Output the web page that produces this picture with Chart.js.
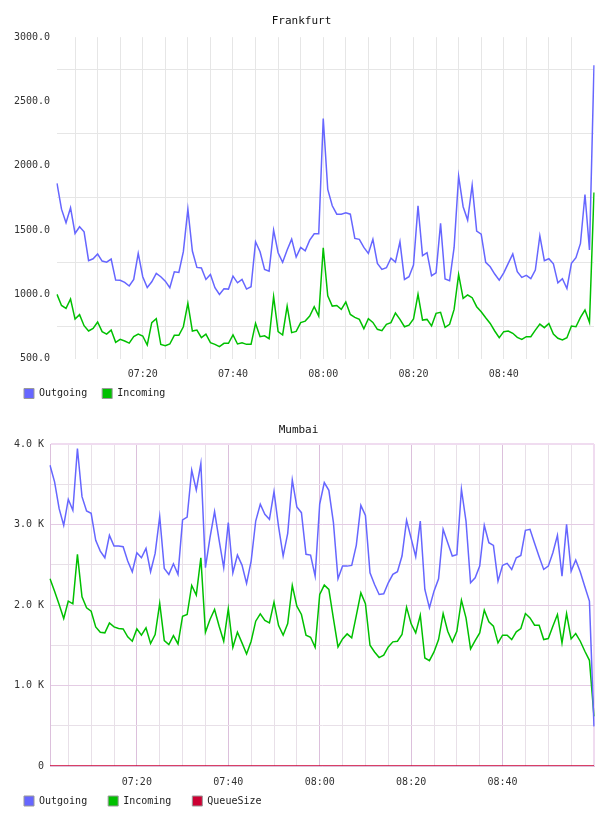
<!DOCTYPE html>
<html>
<head>
<meta charset="utf-8">
<script src="https://cdn.jsdelivr.net/npm/chart.js@4.4.0/dist/chart.umd.min.js"></script>
<style>
  body { margin: 0; background: #fff; overflow: hidden; }
  canvas { position: absolute; left: 0; }
  #frankfurtChart { top: 0; }
  #mumbaiChart { top: 400px; }
</style>
</head>
<body>
<canvas id="frankfurtChart" width="608" height="420"></canvas>
<canvas id="mumbaiChart" width="608" height="430"></canvas>
<script>
// one sample per minute, 07:01 .. 09:00
const startMinute = 7 * 60 + 1;
const sampleCount = 120;
const timeLabels = [];
for (let i = 0; i < sampleCount; i++) {
    const m = startMinute + i;
    timeLabels.push(String(Math.floor(m / 60)).padStart(2, '0') + ':' + String(m % 60).padStart(2, '0'));
}

// Frankfurt
const frankfurtOutgoing = [
    1862, 1662, 1556, 1673, 1473, 1525, 1486, 1261, 1276, 1313,
    1258, 1250, 1274, 1110, 1108, 1092, 1064, 1115, 1318, 1136,
    1053, 1097, 1162, 1136, 1102, 1051, 1175, 1170, 1331, 1662,
    1336, 1209, 1204, 1115, 1154, 1051, 999, 1043, 1040, 1141,
    1089, 1115, 1040, 1058, 1408, 1331, 1193, 1180, 1499, 1323,
    1248, 1344, 1429, 1289, 1364, 1338, 1421, 1471, 1471, 2367,
    1815, 1688, 1623, 1623, 1634, 1623, 1434, 1427, 1364, 1318,
    1427, 1240, 1193, 1206, 1281, 1250, 1408, 1115, 1136, 1227,
    1688, 1300, 1323, 1144, 1167, 1551, 1118, 1105, 1364, 1919,
    1681, 1577, 1849, 1491, 1468, 1248, 1214, 1157, 1110, 1167,
    1240, 1313, 1175, 1131, 1147, 1121, 1188, 1455, 1261, 1276,
    1237, 1089, 1121, 1045, 1240, 1284, 1395, 1776, 1344, 2782
];
const frankfurtIncoming = [
    999, 913, 890, 963, 807, 841, 755, 714, 734, 784,
    709, 690, 721, 626, 649, 636, 620, 670, 690, 675,
    605, 779, 810, 610, 600, 613, 680, 680, 747, 929,
    714, 721, 662, 690, 623, 610, 592, 618, 618, 683,
    613, 623, 610, 610, 773, 670, 677, 654, 981, 709,
    683, 908, 701, 711, 779, 791, 830, 903, 830, 1362,
    988, 908, 913, 882, 939, 843, 820, 804, 732, 810,
    781, 727, 716, 766, 779, 854, 804, 747, 760, 807,
    999, 799, 804, 753, 851, 859, 742, 766, 882, 1154,
    968, 994, 973, 903, 864, 817, 773, 714, 662, 709,
    714, 696, 664, 649, 670, 670, 721, 768, 740, 773,
    690, 657, 644, 662, 753, 747, 820, 877, 781, 1792
];

// Mumbai
const mumbaiOutgoing = [
    3736, 3529, 3197, 2990, 3313, 3176, 3944, 3346, 3168, 3139,
    2803, 2670, 2587, 2865, 2732, 2732, 2724, 2546, 2413, 2649,
    2587, 2703, 2413, 2641, 3097, 2454, 2380, 2512, 2380, 3056,
    3093, 3674, 3429, 3757, 2463, 2836, 3160, 2803, 2463, 3023,
    2400, 2620, 2496, 2268, 2546, 3043, 3251, 3126, 3064, 3409,
    2973, 2608, 2890, 3554, 3218, 3147, 2629, 2620, 2359, 3255,
    3521, 3425, 3023, 2326, 2483, 2483, 2492, 2741, 3238, 3114,
    2400, 2255, 2131, 2139, 2276, 2380, 2413, 2608, 3052, 2828,
    2600, 3043, 2193, 1965, 2172, 2326, 2940, 2774, 2608, 2624,
    3438, 3043, 2276, 2338, 2483, 2990, 2774, 2741, 2297, 2492,
    2517, 2442, 2587, 2616, 2927, 2940, 2766, 2600, 2442, 2483,
    2649, 2865, 2359, 3002, 2421, 2558, 2409, 2226, 2048, 492
];
const mumbaiIncoming = [
    2326, 2172, 2006, 1832, 2048, 2015, 2629, 2102, 1965, 1923,
    1728, 1662, 1654, 1778, 1728, 1708, 1703, 1604, 1550, 1703,
    1625, 1716, 1521, 1633, 2019, 1558, 1508, 1620, 1517, 1861,
    1882, 2243, 2122, 2587, 1662, 1820, 1944, 1737, 1550, 1952,
    1475, 1662, 1529, 1392, 1550, 1799, 1890, 1807, 1778, 2035,
    1745, 1625, 1770, 2243, 1986, 1882, 1625, 1600, 1475, 2131,
    2247, 2193, 1832, 1479, 1579, 1641, 1591, 1869, 2151, 2015,
    1500, 1417, 1347, 1376, 1479, 1542, 1550, 1633, 1973, 1766,
    1654, 1873, 1342, 1309, 1417, 1571, 1894, 1674, 1542, 1674,
    2060, 1840, 1454, 1558, 1654, 1936, 1791, 1737, 1529, 1625,
    1625, 1571, 1666, 1708, 1894, 1840, 1749, 1749, 1571, 1583,
    1737, 1882, 1529, 1894, 1579, 1645, 1550, 1425, 1313, 616
];
const mumbaiQueueSize = [
    0, 0, 0, 0, 0, 0, 0, 0, 0, 0,
    0, 0, 0, 0, 0, 0, 0, 0, 0, 0,
    0, 0, 0, 0, 0, 0, 0, 0, 0, 0,
    0, 0, 0, 0, 0, 0, 0, 0, 0, 0,
    0, 0, 0, 0, 0, 0, 0, 0, 0, 0,
    0, 0, 0, 0, 0, 0, 0, 0, 0, 0,
    0, 0, 0, 0, 0, 0, 0, 0, 0, 0,
    0, 0, 0, 0, 0, 0, 0, 0, 0, 0,
    0, 0, 0, 0, 0, 0, 0, 0, 0, 0,
    0, 0, 0, 0, 0, 0, 0, 0, 0, 0,
    0, 0, 0, 0, 0, 0, 0, 0, 0, 0,
    0, 0, 0, 0, 0, 0, 0, 0, 0, 0
];

const BLUE = '#6666ff';
const GREEN = '#00c000';
const RED = '#cc0033';
const FONT = 'DejaVu Sans Mono';

// the legend sits closer to the axis labels than chart.js puts it
const legendShift = {
    id: 'legendShift',
    afterLayout(chart, args, opts) {
        chart.legend.top -= opts.y;
        chart.legend.bottom -= opts.y;
    }
};

// minute of the hour for a tick index
function minuteOf(i) {
    return (startMinute + i) % 60;
}

function lineDataset(label, data, color) {
    return {
        label: label,
        data: data,
        borderColor: color,
        backgroundColor: color,
        borderWidth: 1.5,
        pointRadius: 0,
        tension: 0,
        fill: false
    };
}

function legendOptions(pad) {
    return {
        position: 'bottom',
        align: 'start',
        labels: {
            boxWidth: 10,
            boxHeight: 10,
            padding: pad,
            color: '#222',
            font: { family: FONT, size: 10 },
            generateLabels: chart => chart.data.datasets.map((ds, i) => ({
                text: ds.label,
                fillStyle: ds.borderColor,
                strokeStyle: '#999',
                lineWidth: 1,
                hidden: false,
                datasetIndex: i,
                fontColor: '#222'
            }))
        }
    };
}

function xTickLabel(value, index) {
    const m = minuteOf(index);
    return (m % 20 === 0 && index < sampleCount - 1) ? timeLabels[index] : '';
}

Chart.defaults.font.family = FONT;

// Frankfurt chart
new Chart(document.getElementById('frankfurtChart'), {
    type: 'line',
    data: {
        labels: timeLabels,
        datasets: [
            lineDataset('Outgoing', frankfurtOutgoing, BLUE),
            lineDataset('Incoming', frankfurtIncoming, GREEN)
        ]
    },
    plugins: [legendShift],
    options: {
        responsive: false,
        animation: false,
        devicePixelRatio: 1,
        layout: { padding: { left: 9, right: 14, top: 0, bottom: 4.5 } },
        plugins: {
            title: {
                display: true,
                text: 'Frankfurt',
                color: '#111',
                font: { family: FONT, size: 11, weight: 'normal' },
                padding: { top: 15, bottom: 9 }
            },
            legend: legendOptions(15),
            legendShift: { y: 7 },
            tooltip: { enabled: false }
        },
        scales: {
            x: {
                type: 'category',
                offset: false,
                ticks: {
                    autoSkip: false,
                    maxRotation: 0,
                    minRotation: 0,
                    padding: 10,
                    color: '#333',
                    font: { family: FONT, size: 10 },
                    callback: xTickLabel
                },
                grid: {
                    drawTicks: false,
                    color: c => (minuteOf(c.index) % 5 === 0 && c.index < sampleCount - 1) ? '#e6e6e6' : 'transparent'
                },
                border: { display: false },
                afterFit: s => { s.height = 22; }
            },
            y: {
                min: 500,
                max: 3000,
                ticks: {
                    stepSize: 250,
                    padding: 7,
                    color: '#333',
                    font: { family: FONT, size: 10 },
                    callback: v => v % 500 === 0 ? v.toFixed(1) : ''
                },
                grid: {
                    drawTicks: false,
                    color: c => c.tick.value % 500 === 0 ? 'transparent' : '#e6e6e6'
                },
                border: { display: false },
                afterFit: s => { s.width = 48; }
            }
        }
    }
});

// Mumbai chart
const MAJOR = '#dcc0dc';
const MINOR = '#e8e0e8';
const EDGE = '#f0dcf0';

new Chart(document.getElementById('mumbaiChart'), {
    type: 'line',
    data: {
        labels: timeLabels,
        datasets: [
            lineDataset('Outgoing', mumbaiOutgoing, BLUE),
            lineDataset('Incoming', mumbaiIncoming, GREEN),
            lineDataset('QueueSize', mumbaiQueueSize, RED)
        ]
    },
    plugins: [legendShift],
    options: {
        responsive: false,
        animation: false,
        devicePixelRatio: 1,
        layout: { padding: { left: 3, right: 14, top: 0, bottom: 1 } },
        plugins: {
            title: {
                display: true,
                text: 'Mumbai',
                color: '#111',
                font: { family: FONT, size: 11, weight: 'normal' },
                padding: { top: 23.4, bottom: 7.4 }
            },
            legend: legendOptions(21),
            legendShift: { y: 13 },
            tooltip: { enabled: false }
        },
        scales: {
            x: {
                type: 'category',
                offset: false,
                ticks: {
                    autoSkip: false,
                    maxRotation: 0,
                    minRotation: 0,
                    padding: 10,
                    color: '#333',
                    font: { family: FONT, size: 10 },
                    callback: xTickLabel
                },
                grid: {
                    drawTicks: false,
                    color: c => {
                        if (c.index === sampleCount - 1) return EDGE;
                        const m = minuteOf(c.index);
                        if (m % 20 === 0) return MAJOR;
                        if (m % 5 === 0) return MINOR;
                        return 'transparent';
                    },
                    lineWidth: c => c.index === sampleCount - 1 ? 2 : 1
                },
                border: { color: MAJOR },
                afterFit: s => { s.height = 22; }
            },
            y: {
                min: 0,
                max: 4000,
                ticks: {
                    stepSize: 500,
                    padding: 6,
                    color: '#333',
                    font: { family: FONT, size: 10 },
                    callback: v => v === 0 ? '0' : (v % 1000 === 0 ? (v / 1000).toFixed(1) + ' K' : '')
                },
                grid: {
                    drawTicks: false,
                    color: c => c.tick.value === 4000 ? EDGE : (c.tick.value % 1000 === 0 ? '#e4cce4' : MINOR),
                    lineWidth: c => c.tick.value === 4000 ? 2 : 1
                },
                border: { color: MAJOR },
                afterFit: s => { s.width = 47; }
            }
        }
    }
});
</script>
</body>
</html>
